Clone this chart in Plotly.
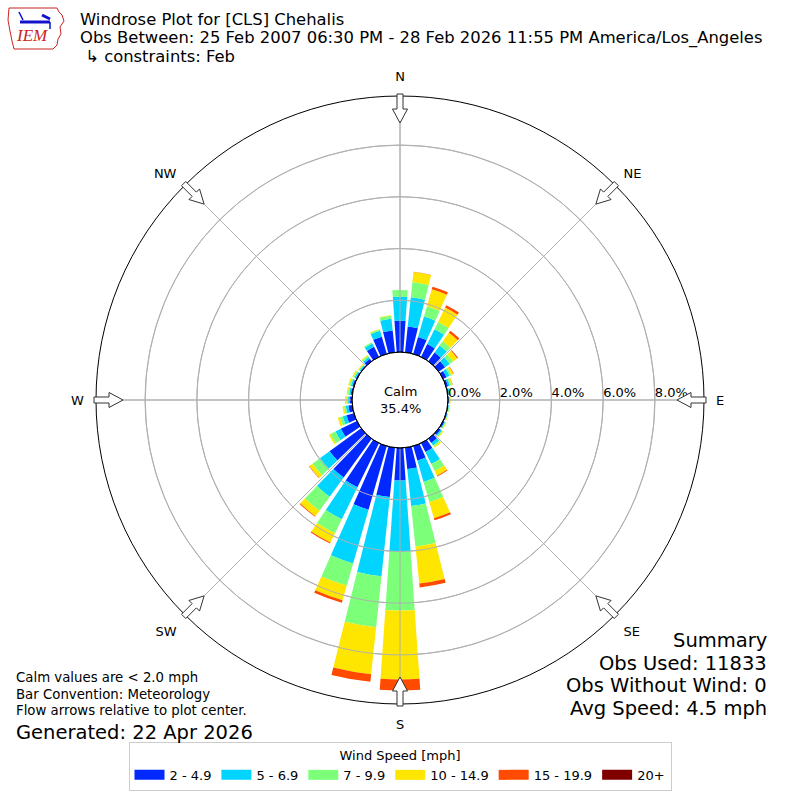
import math
import plotly.graph_objects as go

# ---------------- data ----------------
directions = [0, 10, 20, 30, 40, 50, 60, 70, 80, 90, 100, 110, 120, 130, 140, 150, 160, 170,
              180, 190, 200, 210, 220, 230, 240, 250, 260, 270, 280, 290, 300, 310, 320, 330, 340, 350]

speed_bins = ["2 - 4.9", "5 - 6.9", "7 - 9.9", "10 - 14.9", "15 - 19.9", "20+"]
bin_colors = ["#0028ff", "#00d4ff", "#7cff79", "#ffe600", "#ff4a00", "#800000"]

# percent of observations per direction for each speed bin
pct_2_5 = [1.21, 1.00, 0.68, 0.55, 0.42, 0.30, 0.15, 0.08, 0.04, 0.03, 0.03, 0.04, 0.06, 0.09, 0.20, 0.38, 0.58, 0.83,
           1.26, 1.92, 2.56, 1.90, 1.85, 1.51, 0.69, 0.30, 0.15, 0.08, 0.06, 0.06, 0.05, 0.04, 0.12, 0.43, 0.69, 0.85]
pct_5_7 = [0.93, 1.14, 0.82, 0.64, 0.33, 0.22, 0.13, 0.07, 0.04, 0.03, 0.02, 0.02, 0.03, 0.06, 0.12, 0.52, 0.86, 1.44,
           2.74, 3.08, 2.16, 1.38, 0.92, 0.46, 0.23, 0.15, 0.10, 0.07, 0.06, 0.06, 0.05, 0.04, 0.08, 0.15, 0.24, 0.45]
pct_7_10 = [0.26, 0.59, 0.42, 0.31, 0.20, 0.16, 0.08, 0.06, 0.04, 0.03, 0.03, 0.02, 0.03, 0.04, 0.06, 0.30, 0.81, 1.57,
            2.28, 1.98, 0.89, 0.60, 0.67, 0.36, 0.22, 0.12, 0.07, 0.06, 0.05, 0.06, 0.05, 0.04, 0.06, 0.05, 0.05, 0.12]
pct_10_15 = [0.00, 0.39, 0.68, 0.62, 0.41, 0.20, 0.08, 0.05, 0.03, 0.02, 0.02, 0.02, 0.03, 0.03, 0.05, 0.20, 0.65, 1.44,
             2.67, 1.83, 0.59, 0.40, 0.26, 0.15, 0.06, 0.08, 0.06, 0.06, 0.05, 0.05, 0.05, 0.03, 0.03, 0.00, 0.02, 0.02]
pct_15_20 = [0.00, 0.01, 0.10, 0.10, 0.09, 0.04, 0.02, 0.01, 0.00, 0.00, 0.00, 0.00, 0.00, 0.00, 0.00, 0.03, 0.08, 0.15,
             0.43, 0.29, 0.10, 0.04, 0.03, 0.02, 0.00, 0.00, 0.00, 0.00, 0.00, 0.00, 0.00, 0.00, 0.00, 0.00, 0.00, 0.00]
pct_20_up = [0.00] * 36

series = [pct_2_5, pct_5_7, pct_7_10, pct_10_15, pct_15_20, pct_20_up]

compass_vals = [0, 45, 90, 135, 180, 225, 270, 315]
compass_text = ["N", "NE", "E", "SE", "S", "SW", "W", "NW"]
radial_ticks = [0, 2, 4, 6, 8]
radial_ticktext = ["0.0%", "2.0%", "4.0%", "6.0%", "8.0%"]
radial_max = 9.9

calm_pct = "35.4%"
title_lines = ["Windrose Plot for [CLS] Chehalis",
               "Obs Between: 25 Feb 2007 06:30 PM - 28 Feb 2026 11:55 PM America/Los_Angeles",
               " \u21b3 constraints: Feb"]
notes = ["Calm values are < 2.0 mph", "Bar Convention: Meteorology", "Flow arrows relative to plot center."]
generated = "Generated: 22 Apr 2026"
summary = ["Summary", "Obs Used: 11833", "Obs Without Wind: 0", "Avg Speed: 4.5 mph"]

# ---------------- layout constants ----------------
W = H = 800
CX, CY, R = 400, 400, 304
HOLE_PX = 48
FONT = "DejaVu Sans"
GRID = "#b0b0b0"


def px(x):
    return x / W


def py(y):
    return 1 - y / H


fig = go.Figure()
for name, vals, col in zip(speed_bins, series, bin_colors):
    fig.add_trace(go.Barpolar(
        r=vals, theta=directions, width=[8] * len(directions), name=name,
        marker=dict(color=col, line=dict(width=0)),
        hoverinfo="skip", showlegend=False,
    ))

# grid drawn above the bars (as in the reference)
ring_theta, ring_r = [], []
for v in radial_ticks[1:]:
    ring_theta += list(range(0, 361, 2)) + [None]
    ring_r += [v] * 181 + [None]
fig.add_trace(go.Scatterpolar(r=ring_r, theta=ring_theta, mode="lines",
                              line=dict(color=GRID, width=1), hoverinfo="skip", showlegend=False))
spoke_theta, spoke_r = [], []
for a in compass_vals:
    spoke_theta += [a, a, None]
    spoke_r += [0, radial_max, None]
fig.add_trace(go.Scatterpolar(r=spoke_r, theta=spoke_theta, mode="lines",
                              line=dict(color=GRID, width=1), hoverinfo="skip", showlegend=False))

# radial tick labels, left-aligned at each ring along the east axis
fig.add_trace(go.Scatterpolar(r=radial_ticks, theta=[90] * len(radial_ticks), mode="text",
                              text=radial_ticktext, textposition="top right",
                              textfont=dict(size=13, family=FONT, color="black"),
                              hoverinfo="skip", showlegend=False, cliponaxis=False))

# legend swatches
for name, col in zip(speed_bins, bin_colors):
    fig.add_trace(go.Scatterpolar(r=[None], theta=[None], mode="lines", name=name,
                                  line=dict(color=col, width=10), hoverinfo="skip", showlegend=True))

fig.update_layout(
    width=W, height=H,
    margin=dict(l=0, r=0, t=0, b=0),
    paper_bgcolor="white",
    font=dict(family=FONT, size=13, color="black"),
    polar=dict(
        domain=dict(x=[px(CX - R), px(CX + R)], y=[py(CY + R), py(CY - R)]),
        hole=HOLE_PX / R,
        bgcolor="white",
        barmode="stack",
        angularaxis=dict(
            rotation=90, direction="clockwise",
            tickmode="array", tickvals=compass_vals, ticktext=compass_text,
            showline=True, linecolor="black", linewidth=1,
            gridcolor=GRID, gridwidth=1,
            ticks="outside", ticklen=9, tickcolor="rgba(0,0,0,0)",
            tickfont=dict(size=13, family=FONT),
        ),
        radialaxis=dict(
            range=[0, radial_max], angle=0,
            tickmode="array", tickvals=radial_ticks, showticklabels=False,
            showline=False, ticks="",
            gridcolor=GRID, gridwidth=1,
        ),
    ),
    legend=dict(
        orientation="h", x=0.5, xanchor="center", y=py(742), yanchor="top",
        bgcolor="white", bordercolor="#cccccc", borderwidth=1,
        font=dict(size=13, family=FONT),
        title=dict(text="Wind Speed [mph]", side="top center", font=dict(size=13, family=FONT)),
        traceorder="normal",
    ),
    showlegend=True,
)

shapes = []
# calm circle
shapes.append(dict(type="circle", xref="paper", yref="paper",
                   x0=px(CX - HOLE_PX), x1=px(CX + HOLE_PX), y0=py(CY + HOLE_PX), y1=py(CY - HOLE_PX),
                   line=dict(color="black", width=1), fillcolor="rgba(0,0,0,0)"))

# flow arrows at the 8 compass points, pointing towards the centre
arrow_local = [(277, 0), (291, 7.5), (291, 3), (306, 3), (306, -3), (291, -3), (291, -7.5)]
for ang in compass_vals:
    t = math.radians(ang)
    pts = []
    for rr, tt in arrow_local:
        x = CX + rr * math.sin(t) + tt * math.cos(t)
        y = CY - rr * math.cos(t) + tt * math.sin(t)
        pts.append((px(x), py(y)))
    path = "M " + " L ".join(f"{a:.5f},{b:.5f}" for a, b in pts) + " Z"
    shapes.append(dict(type="path", xref="paper", yref="paper", path=path,
                       fillcolor="white", line=dict(color="#333333", width=1)))

# IEM logo (simplified outline)
iowa = [(9, 8), (57, 8), (59, 12), (62, 15), (64, 21), (60, 27), (61, 34), (58, 39), (57, 45),
        (53, 49), (14, 49), (12, 41), (10, 31), (8, 20)]
path = "M " + " L ".join(f"{px(a):.5f},{py(b):.5f}" for a, b in iowa) + " Z"
shapes.append(dict(type="path", xref="paper", yref="paper", path=path,
                   fillcolor="white", line=dict(color="#cc2222", width=1)))
shapes.append(dict(type="line", xref="paper", yref="paper", x0=px(20), x1=px(50), y0=py(22), y1=py(22),
                   line=dict(color="#1111cc", width=3)))
shapes.append(dict(type="line", xref="paper", yref="paper", x0=px(42), x1=px(50), y0=py(15), y1=py(19),
                   line=dict(color="#1111cc", width=3)))
shapes.append(dict(type="line", xref="paper", yref="paper", x0=px(19), x1=px(23), y0=py(12), y1=py(20),
                   line=dict(color="#1111cc", width=1.5)))
shapes.append(dict(type="line", xref="paper", yref="paper", x0=px(50), x1=px(50), y0=py(22), y1=py(29),
                   line=dict(color="#1111cc", width=1.5)))
fig.update_layout(shapes=shapes)

ann = []
ann.append(dict(text="<i>IEM</i>", x=px(14), y=py(47), xref="paper", yref="paper", xanchor="left",
                yanchor="bottom", showarrow=False,
                font=dict(family="Liberation Serif", size=17, color="#cc2222")))
for i, line in enumerate(title_lines):
    ann.append(dict(text=line, x=px(79), y=py(8.5 + i * 18.6), xref="paper", yref="paper",
                    xanchor="left", yanchor="top", showarrow=False, borderpad=0,
                    font=dict(size=16.4, family=FONT)))
ann.append(dict(text="Calm<br>" + calm_pct, x=px(CX), y=py(CY), xref="paper", yref="paper",
                xanchor="center", yanchor="middle", showarrow=False, font=dict(size=13, family=FONT)))
for i, line in enumerate(notes):
    ann.append(dict(text=line, x=px(15), y=py(669 + i * 16.5), xref="paper", yref="paper",
                    xanchor="left", yanchor="top", showarrow=False, borderpad=0,
                    font=dict(size=13.3, family=FONT)))
ann.append(dict(text=generated, x=px(15), y=py(720), xref="paper", yref="paper",
                xanchor="left", yanchor="top", showarrow=False, borderpad=0,
                font=dict(size=19.5, family=FONT)))
for i, line in enumerate(summary):
    ann.append(dict(text=line, x=px(769), y=py(627 + i * 22.5), xref="paper", yref="paper",
                    xanchor="right", yanchor="top", showarrow=False, font=dict(size=19.5, family=FONT)))
fig.update_layout(annotations=ann)

fig.write_html("out.html", config={"displayModeBar": False},
               post_script="document.body.style.margin='0px';")
